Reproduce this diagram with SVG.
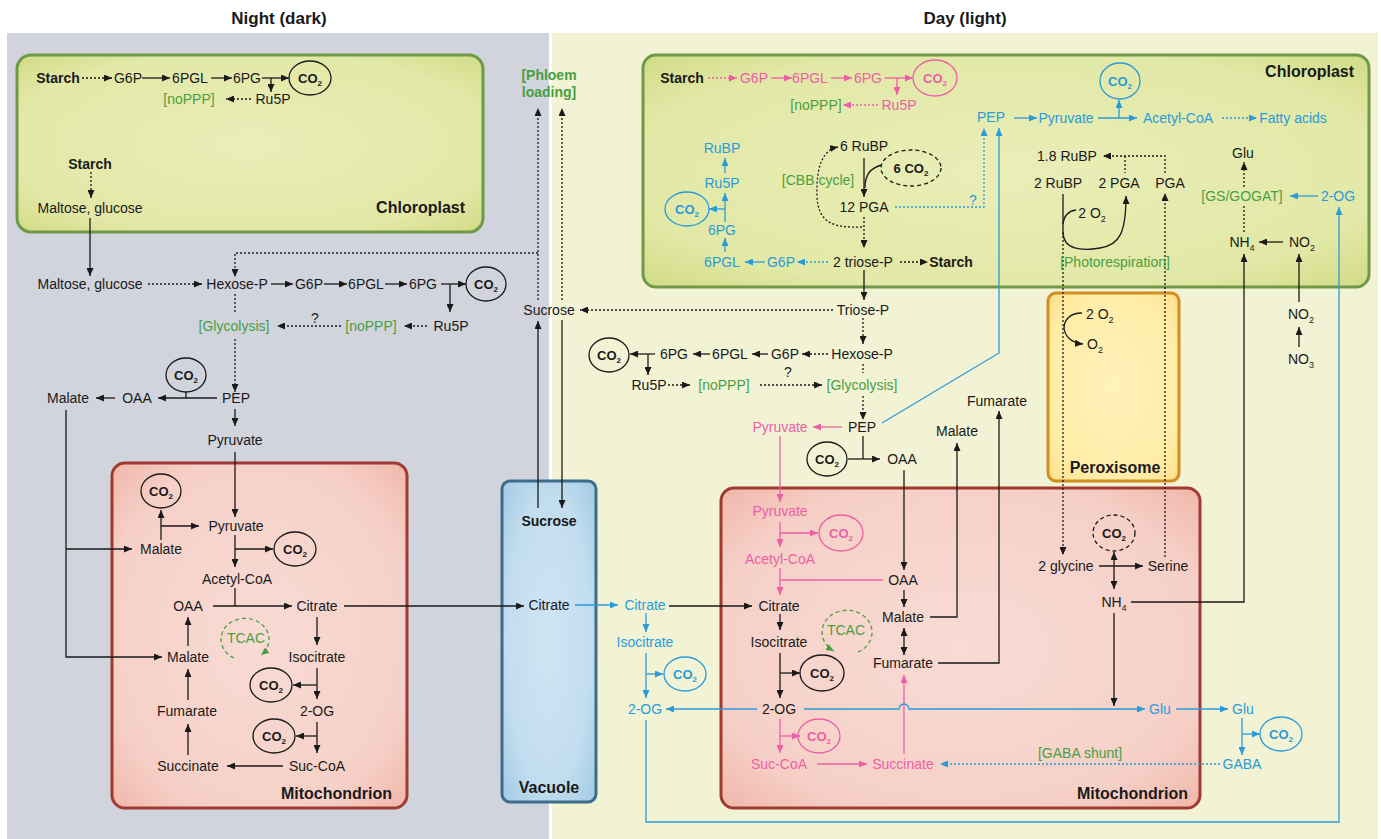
<svg xmlns="http://www.w3.org/2000/svg" width="1381" height="839" viewBox="0 0 1381 839">
<defs>
<style>
text{font-family:"Liberation Sans",Arial,sans-serif;font-size:14px;fill:#1a1a1a;text-anchor:middle}
.b{font-weight:bold}
.h{font-weight:bold;font-size:16px}
.g{fill:#4a9e3f}
.p{fill:#ec5fa5}
.u{fill:#2a9bd8}
.e{text-anchor:end}
.st{text-anchor:start}
.c{font-weight:bold;font-size:13px}
.l{fill:none;stroke:#1a1a1a;stroke-width:1.3}
.lp{fill:none;stroke:#ec5fa5;stroke-width:1.3}
.lu{fill:none;stroke:#2a9bd8;stroke-width:1.3}
.lt{fill:none;stroke:#4a9e3f;stroke-width:1.3;stroke-dasharray:4 3}
.d{stroke-dasharray:2 2}
.ek{fill:none;stroke:#1a1a1a;stroke-width:1.3}
.ep{fill:none;stroke:#ec5fa5;stroke-width:1.3}
.eu{fill:none;stroke:#2a9bd8;stroke-width:1.3}
.dash{stroke-dasharray:4 3}
</style>
<marker id="ak" viewBox="0 0 8 7" refX="8" refY="3.5" markerWidth="8" markerHeight="7" orient="auto-start-reverse" markerUnits="userSpaceOnUse"><path d="M0,0 L8,3.5 L0,7 z" fill="#1a1a1a"/></marker>
<marker id="ap" viewBox="0 0 8 7" refX="8" refY="3.5" markerWidth="8" markerHeight="7" orient="auto" markerUnits="userSpaceOnUse"><path d="M0,0 L8,3.5 L0,7 z" fill="#ec5fa5"/></marker>
<marker id="au" viewBox="0 0 8 7" refX="8" refY="3.5" markerWidth="8" markerHeight="7" orient="auto" markerUnits="userSpaceOnUse"><path d="M0,0 L8,3.5 L0,7 z" fill="#2a9bd8"/></marker>
<marker id="ag" viewBox="0 0 8 7" refX="8" refY="3.5" markerWidth="8" markerHeight="7" orient="auto" markerUnits="userSpaceOnUse"><path d="M0,0 L8,3.5 L0,7 z" fill="#4a9e3f"/></marker>
<radialGradient id="gc" cx="50%" cy="50%" r="75%"><stop offset="0" stop-color="#e9eeb8"/><stop offset="0.7" stop-color="#e2e8a6"/><stop offset="1" stop-color="#cdd87e"/></radialGradient>
<radialGradient id="gm" cx="50%" cy="50%" r="75%"><stop offset="0" stop-color="#f8dbd4"/><stop offset="0.7" stop-color="#f6d0c7"/><stop offset="1" stop-color="#efb0a3"/></radialGradient>
<radialGradient id="gv" cx="50%" cy="50%" r="75%"><stop offset="0" stop-color="#cfe5f3"/><stop offset="0.6" stop-color="#c2ddef"/><stop offset="1" stop-color="#9cc6e3"/></radialGradient>
<radialGradient id="gp" cx="50%" cy="50%" r="75%"><stop offset="0" stop-color="#fff2bb"/><stop offset="0.7" stop-color="#ffeca6"/><stop offset="1" stop-color="#fbdc80"/></radialGradient>
</defs>

<g id="background">
<rect x="0" y="0" width="1381" height="839" fill="#ffffff"/>
<rect x="7" y="33" width="542" height="806" fill="#d1d4dc"/>
<rect x="552" y="33" width="826" height="806" fill="#f2f3d5"/>
<text class="b" x="279" y="24" style="font-size:17px">Night (dark)</text>
<text class="b" x="965" y="24" style="font-size:17px">Day (light)</text>
</g>

<g id="compartments">
<g id="chloroplast-night"><rect x="17" y="55" width="466" height="177" rx="14" fill="url(#gc)" stroke="#6e9a48" stroke-width="3"/><text class="h e" x="465" y="213">Chloroplast</text></g>
<g id="mito-night"><rect x="112" y="463" width="295" height="345" rx="13" fill="url(#gm)" stroke="#a03a30" stroke-width="3"/><text class="h e" x="392" y="799">Mitochondrion</text></g>
<g id="vacuole"><rect x="502" y="481" width="94" height="321" rx="8" fill="url(#gv)" stroke="#3e6d8c" stroke-width="3"/><text class="h" x="549" y="793">Vacuole</text></g>
<g id="chloroplast-day"><rect x="643" y="55" width="726" height="232" rx="13" fill="url(#gc)" stroke="#6e9a48" stroke-width="3"/><text class="h e" x="1354" y="77">Chloroplast</text></g>
<g id="peroxisome"><rect x="1048" y="293" width="131" height="188" rx="8" fill="url(#gp)" stroke="#d08f1f" stroke-width="3"/><text class="h" x="1115" y="473">Peroxisome</text></g>
<g id="mito-day"><rect x="721" y="488" width="479" height="320" rx="13" fill="url(#gm)" stroke="#a03a30" stroke-width="3"/><text class="h e" x="1188" y="799">Mitochondrion</text></g>
</g>

<g id="connectors">
<!-- night chloroplast -->
<path class="l d" d="M82,78 H112" marker-end="url(#ak)"/>
<path class="l" d="M142,78 H170" marker-end="url(#ak)"/>
<path class="l" d="M211,78 H232" marker-end="url(#ak)"/>
<path class="l" d="M262,78 H289" marker-end="url(#ak)"/>
<path class="l" d="M271,78 V92" marker-end="url(#ak)"/>
<path class="l d" d="M251,99 H226" marker-end="url(#ak)"/>
<path class="l d" d="M91,172 V198" marker-end="url(#ak)"/>
<path class="l" d="M90,218 V276" marker-end="url(#ak)"/>
<!-- night cytosol -->
<path class="l d" d="M148,284 H202" marker-end="url(#ak)"/>
<path class="l" d="M271,284 H293" marker-end="url(#ak)"/>
<path class="l" d="M324,284 H347" marker-end="url(#ak)"/>
<path class="l" d="M385,284 H407" marker-end="url(#ak)"/>
<path class="l" d="M441,284 H466" marker-end="url(#ak)"/>
<path class="l" d="M450,284 V312" marker-end="url(#ak)"/>
<path class="l d" d="M427,326 H404" marker-end="url(#ak)"/>
<path class="l d" d="M341,326 H277" marker-end="url(#ak)"/>
<path class="l d" d="M235,294 V313"/>
<path class="l d" d="M235,339 V392" marker-end="url(#ak)"/>
<path class="l" d="M217,398 H158" marker-end="url(#ak)"/>
<path class="l" d="M186,398 V392"/>
<path class="l" d="M115,398 H96" marker-end="url(#ak)"/>
<path class="l" d="M235,409 V426" marker-end="url(#ak)"/>
<path class="l" d="M235,452 V517" marker-end="url(#ak)"/>
<path class="l" d="M66,410 V657 H162" marker-end="url(#ak)"/>
<path class="l" d="M66,549 H132" marker-end="url(#ak)"/>
<path class="l d" d="M538,253 H235 V277" marker-end="url(#ak)"/>
<path class="l d" d="M538,300 V108" marker-end="url(#ak)"/>
<path class="l d" d="M562,300 V108" marker-end="url(#ak)"/>
<path class="l" d="M538,508 V321" marker-end="url(#ak)"/>
<path class="l" d="M562,320 V508" marker-end="url(#ak)"/>
<!-- night mito -->
<path class="l" d="M161,540 V510" marker-end="url(#ak)"/>
<path class="l" d="M161,526 H199" marker-end="url(#ak)"/>
<path class="l" d="M235,535 V567" marker-end="url(#ak)"/>
<path class="l" d="M235,549 H273" marker-end="url(#ak)"/>
<path class="l" d="M235,588 V606"/>
<path class="l" d="M213,606 H292" marker-end="url(#ak)"/>
<path class="l" d="M317,617 V645" marker-end="url(#ak)"/>
<path class="l" d="M317,668 V699" marker-end="url(#ak)"/>
<path class="l" d="M317,685 H293" marker-end="url(#ak)"/>
<path class="l" d="M317,722 V753" marker-end="url(#ak)"/>
<path class="l" d="M317,736 H296" marker-end="url(#ak)"/>
<path class="l" d="M283,766 H227" marker-end="url(#ak)"/>
<path class="l" d="M188,755 V724" marker-end="url(#ak)"/>
<path class="l" d="M188,700 V669" marker-end="url(#ak)"/>
<path class="l" d="M188,646 V617" marker-end="url(#ak)"/>
<path class="lt" d="M234,658 A24 21 0 1 1 261,655" marker-end="url(#ag)"/>
<path class="l" d="M344,606 H524" marker-end="url(#ak)"/>
<!-- day chloroplast -->
<path class="lp d" d="M708,78 H737" marker-end="url(#ap)"/>
<path class="lp" d="M771,78 H792" marker-end="url(#ap)"/>
<path class="lp" d="M831,78 H852" marker-end="url(#ap)"/>
<path class="lp" d="M885,78 H913" marker-end="url(#ap)"/>
<path class="lp" d="M897,78 V95" marker-end="url(#ap)"/>
<path class="lp d" d="M878,105 H843" marker-end="url(#ap)"/>
<path class="lu" d="M725,173 V158" marker-end="url(#au)"/>
<path class="lu" d="M725,222 V193" marker-end="url(#au)"/>
<path class="lu" d="M725,209 H709" marker-end="url(#au)"/>
<path class="lu" d="M725,252 V238" marker-end="url(#au)"/>
<path class="lu" d="M765,262 H745" marker-end="url(#au)"/>
<path class="lu d" d="M828,262 H797" marker-end="url(#au)"/>
<path class="l d" d="M900,262 H928" marker-end="url(#ak)"/>
<path class="l" d="M864,158 V197" marker-end="url(#ak)"/>
<path class="l" d="M882,165 C870,168 865,175 865,188"/>
<path class="l d" d="M862,227 C835,228 818,224 817,196 C816,168 822,150 838,147" marker-end="url(#ak)"/>
<path class="l d" d="M864,217 V248" marker-end="url(#ak)"/>
<path class="lu d" d="M895,207 H984 V128" marker-end="url(#au)"/>
<path class="lu" d="M882,423 L999,353 V128" marker-end="url(#au)"/>
<path class="lu" d="M1014,118 H1037" marker-end="url(#au)"/>
<path class="lu" d="M1098,118 H1137" marker-end="url(#au)"/>
<path class="lu" d="M1119,118 V100" marker-end="url(#au)"/>
<path class="lu d" d="M1222,118 H1257" marker-end="url(#au)"/>
<path class="l d" d="M1165,173 V156 H1103" marker-end="url(#ak)"/>
<path class="l d" d="M1125,156 V173"/>
<path class="l" d="M1063,194 V232 C1063,250 1082,251 1100,248 C1120,245 1126,232 1126,196" marker-end="url(#ak)"/>
<path class="l" d="M1076,210 C1068,211 1064,216 1063,224"/>
<path class="l d" d="M1063,232 V555" marker-end="url(#ak)"/>
<path class="l d" d="M1165,557 V193" marker-end="url(#ak)"/>
<path class="l d" d="M1244,232 V204"/>
<path class="l d" d="M1244,187 V162" marker-end="url(#ak)"/>
<path class="lu" d="M1318,196 H1290" marker-end="url(#au)"/>
<path class="l" d="M1283,242 H1259" marker-end="url(#ak)"/>
<path class="l" d="M1299,302 V254" marker-end="url(#ak)"/>
<path class="l" d="M1299,347 V327" marker-end="url(#ak)"/>
<path class="l" d="M1131,602 H1244 V254" marker-end="url(#ak)"/>
<path class="lu" d="M646,720 V822 H1339 V207" marker-end="url(#au)"/>
<!-- day cytosol -->
<path class="l" d="M864,270 V300" marker-end="url(#ak)"/>
<path class="l d" d="M833,310 H580" marker-end="url(#ak)"/>
<path class="l d" d="M863,318 V344" marker-end="url(#ak)"/>
<path class="l d" d="M828,354 H802" marker-end="url(#ak)"/>
<path class="l" d="M768,354 H752" marker-end="url(#ak)"/>
<path class="l" d="M710,354 H693" marker-end="url(#ak)"/>
<path class="l" d="M655,354 H630" marker-end="url(#ak)"/>
<path class="l" d="M648,354 V375" marker-end="url(#ak)"/>
<path class="l d" d="M668,385 H690" marker-end="url(#ak)"/>
<path class="l d" d="M760,385 H822" marker-end="url(#ak)"/>
<path class="l d" d="M863,364 V373"/>
<path class="l d" d="M863,396 V420" marker-end="url(#ak)"/>
<path class="lp" d="M842,427 H813" marker-end="url(#ap)"/>
<path class="lp" d="M780,436 V502" marker-end="url(#ap)"/>
<path class="l" d="M863,436 V459"/>
<path class="l" d="M848,459 H880" marker-end="url(#ak)"/>
<path class="l" d="M904,470 V570" marker-end="url(#ak)"/>
<path class="l" d="M930,617 H957 V443" marker-end="url(#ak)"/>
<path class="l" d="M938,663 H999 V411" marker-end="url(#ak)"/>
<path class="lu" d="M575,605 H618" marker-end="url(#au)"/>
<path class="l" d="M669,606 H752" marker-end="url(#ak)"/>
<path class="lu" d="M646,613 V632" marker-end="url(#au)"/>
<path class="lu" d="M646,653 V698" marker-end="url(#au)"/>
<path class="lu" d="M646,674 H663" marker-end="url(#au)"/>
<path class="lu" d="M757,709 H666" marker-end="url(#au)"/>
<!-- day mito -->
<path class="lp" d="M780,522 V547" marker-end="url(#ap)"/>
<path class="lp" d="M780,533 H818" marker-end="url(#ap)"/>
<path class="lp" d="M780,568 V595" marker-end="url(#ap)"/>
<path class="lp" d="M780,580 H883"/>
<path class="l" d="M904,590 V607" marker-end="url(#ak)"/>
<path class="l" d="M904,628 V655" marker-start="url(#ak)" marker-end="url(#ak)"/>
<path class="l" d="M780,614 V630" marker-end="url(#ak)"/>
<path class="l" d="M780,653 V698" marker-end="url(#ak)"/>
<path class="l" d="M780,673 H800" marker-end="url(#ak)"/>
<path class="lp" d="M780,719 V753" marker-end="url(#ap)"/>
<path class="lp" d="M780,736 H800" marker-end="url(#ap)"/>
<path class="lp" d="M817,764 H867" marker-end="url(#ap)"/>
<path class="lp" d="M904,754 V675" marker-end="url(#ap)"/>
<path class="lu" d="M804,709 H899 A5,5 0 0 1 909,709 H1145" marker-end="url(#au)"/>
<path class="l" d="M1114,613 V706" marker-end="url(#ak)"/>
<path class="lu" d="M1176,709 H1228" marker-end="url(#au)"/>
<path class="lu" d="M1242,718 V755" marker-end="url(#au)"/>
<path class="lu" d="M1242,734 H1260" marker-end="url(#au)"/>
<path class="lu d" d="M1220,764 H940" marker-end="url(#au)"/>
<path class="l" d="M1099,566 H1143" marker-end="url(#ak)"/>
<path class="l" d="M1114,552 V589" marker-start="url(#ak)" marker-end="url(#ak)"/>
<path class="lt" d="M858,652 A25 22 0 1 0 834,651" marker-end="url(#ag)"/>
<path class="l" d="M1082,313 C1068,313 1064,322 1064,328 C1065,337 1072,343 1083,344" marker-end="url(#ak)"/>
</g>

<g id="nodes">
<!-- night chloroplast -->
<g id="n1"><text class="b" x="58" y="83">Starch</text></g>
<g id="n2"><text x="128" y="83">G6P</text></g>
<g id="n3"><text x="190" y="83">6PGL</text></g>
<g id="n4"><text x="247" y="83">6PG</text></g>
<g id="n5"><ellipse class="ek" cx="310" cy="78" rx="21" ry="17"/><text class="c" x="310" y="83">CO<tspan font-size="8" dy="3">2</tspan></text></g>
<g id="n6"><text x="273" y="104">Ru5P</text></g>
<g id="n7"><text class="g" x="189" y="104">[noPPP]</text></g>
<g id="n8"><text class="b" x="90" y="169">Starch</text></g>
<g id="n9"><text x="90" y="213">Maltose, glucose</text></g>
<!-- night cytosol -->
<g id="n10"><text x="90" y="289">Maltose, glucose</text></g>
<g id="n11"><text x="237" y="289">Hexose-P</text></g>
<g id="n12"><text x="309" y="289">G6P</text></g>
<g id="n13"><text x="366" y="289">6PGL</text></g>
<g id="n14"><text x="423" y="289">6PG</text></g>
<g id="n15"><ellipse class="ek" cx="486" cy="284" rx="20" ry="17"/><text class="c" x="486" y="289">CO<tspan font-size="8" dy="3">2</tspan></text></g>
<g id="n16"><text x="451" y="331">Ru5P</text></g>
<g id="n17"><text class="g" x="371" y="331">[noPPP]</text></g>
<g id="n18"><text x="315" y="323">?</text></g>
<g id="n19"><text class="g" x="234" y="331">[Glycolysis]</text></g>
<g id="n20"><text x="236" y="403">PEP</text></g>
<g id="n21"><text x="137" y="403">OAA</text></g>
<g id="n22"><text x="68" y="403">Malate</text></g>
<g id="n23"><ellipse class="ek" cx="186" cy="375" rx="20" ry="17"/><text class="c" x="186" y="380">CO<tspan font-size="8" dy="3">2</tspan></text></g>
<g id="n24"><text x="235" y="445">Pyruvate</text></g>
<g id="n25"><text x="549" y="315">Sucrose</text></g>
<g id="n26"><text class="b g" x="549" y="80">[Phloem</text><text class="b g" x="549" y="97">loading]</text></g>
<!-- night mito -->
<g id="n27"><ellipse class="ek" cx="161" cy="491" rx="20" ry="17"/><text class="c" x="161" y="496">CO<tspan font-size="8" dy="3">2</tspan></text></g>
<g id="n28"><text x="161" y="554">Malate</text></g>
<g id="n29"><text x="236" y="531">Pyruvate</text></g>
<g id="n30"><ellipse class="ek" cx="295" cy="549" rx="21" ry="17"/><text class="c" x="295" y="554">CO<tspan font-size="8" dy="3">2</tspan></text></g>
<g id="n31"><text x="237" y="584">Acetyl-CoA</text></g>
<g id="n32"><text x="188" y="611">OAA</text></g>
<g id="n33"><text x="317" y="611">Citrate</text></g>
<g id="n34"><text class="g" x="246" y="643">TCAC</text></g>
<g id="n35"><text x="317" y="662">Isocitrate</text></g>
<g id="n36"><ellipse class="ek" cx="271" cy="685" rx="21" ry="17"/><text class="c" x="271" y="690">CO<tspan font-size="8" dy="3">2</tspan></text></g>
<g id="n37"><text x="317" y="716">2-OG</text></g>
<g id="n38"><ellipse class="ek" cx="274" cy="736" rx="21" ry="17"/><text class="c" x="274" y="741">CO<tspan font-size="8" dy="3">2</tspan></text></g>
<g id="n39"><text x="317" y="771">Suc-CoA</text></g>
<g id="n40"><text x="188" y="771">Succinate</text></g>
<g id="n41"><text x="187" y="716">Fumarate</text></g>
<g id="n42"><text x="188" y="662">Malate</text></g>
<!-- vacuole -->
<g id="n43"><text class="b" x="549" y="526">Sucrose</text></g>
<g id="n44"><text x="549" y="610">Citrate</text></g>
<!-- day chloroplast -->
<g id="n45"><text class="b" x="682" y="83">Starch</text></g>
<g id="n46"><text class="p" x="754" y="83">G6P</text></g>
<g id="n47"><text class="p" x="810" y="83">6PGL</text></g>
<g id="n48"><text class="p" x="868" y="83">6PG</text></g>
<g id="n49"><ellipse class="ep" cx="935" cy="78" rx="22" ry="18"/><text class="c p" x="935" y="83">CO<tspan font-size="8" dy="3">2</tspan></text></g>
<g id="n50"><text class="p" x="899" y="110">Ru5P</text></g>
<g id="n51"><text class="g" x="816" y="110">[noPPP]</text></g>
<g id="n52"><text class="u" x="991" y="122">PEP</text></g>
<g id="n53"><text class="u" x="1066" y="123">Pyruvate</text></g>
<g id="n54"><ellipse class="eu" cx="1120" cy="81" rx="20" ry="18"/><text class="c u" x="1120" y="86">CO<tspan font-size="8" dy="3">2</tspan></text></g>
<g id="n55"><text class="u" x="1178" y="123">Acetyl-CoA</text></g>
<g id="n56"><text class="u" x="1293" y="123">Fatty acids</text></g>
<g id="n57"><text class="u" x="722" y="153">RuBP</text></g>
<g id="n58"><text class="u" x="722" y="188">Ru5P</text></g>
<g id="n59"><ellipse class="eu" cx="687" cy="209" rx="22" ry="17"/><text class="c u" x="687" y="214">CO<tspan font-size="8" dy="3">2</tspan></text></g>
<g id="n60"><text class="u" x="722" y="235">6PG</text></g>
<g id="n61"><text class="u" x="722" y="267">6PGL</text></g>
<g id="n62"><text class="u" x="781" y="267">G6P</text></g>
<g id="n63"><text x="863" y="267">2 triose-P</text></g>
<g id="n64"><text class="b" x="951" y="267">Starch</text></g>
<g id="n65"><text x="864" y="151">6 RuBP</text></g>
<g id="n66"><ellipse class="ek dash" cx="911" cy="168" rx="30" ry="18"/><text class="c" x="911" y="173">6 CO<tspan font-size="8" dy="3">2</tspan></text></g>
<g id="n67"><text class="g" x="818" y="185">[CBB cycle]</text></g>
<g id="n68"><text x="864" y="212">12 PGA</text></g>
<g id="n69"><text class="u" x="973" y="205">?</text></g>
<g id="n70"><text x="1067" y="161">1.8 RuBP</text></g>
<g id="n71"><text x="1058" y="188">2 RuBP</text></g>
<g id="n72"><text x="1119" y="188">2 PGA</text></g>
<g id="n73"><text x="1170" y="188">PGA</text></g>
<g id="n74"><text x="1092" y="218">2 O<tspan font-size="9" dy="4">2</tspan></text></g>
<g id="n75"><text class="g" x="1115" y="267">[Photorespiration]</text></g>
<g id="n76"><text x="1243" y="158">Glu</text></g>
<g id="n77"><text class="g" x="1242" y="201">[GS/GOGAT]</text></g>
<g id="n78"><text class="u" x="1338" y="201">2-OG</text></g>
<g id="n79"><text x="1242" y="247">NH<tspan font-size="9" dy="4">4</tspan></text></g>
<g id="n80"><text x="1302" y="247">NO<tspan font-size="9" dy="4">2</tspan></text></g>
<!-- day cytosol -->
<g id="n81"><text x="863" y="315">Triose-P</text></g>
<g id="n82"><text x="862" y="359">Hexose-P</text></g>
<g id="n83"><text x="785" y="359">G6P</text></g>
<g id="n84"><text x="730" y="359">6PGL</text></g>
<g id="n85"><text x="674" y="359">6PG</text></g>
<g id="n86"><ellipse class="ek" cx="609" cy="355" rx="20" ry="17"/><text class="c" x="609" y="360">CO<tspan font-size="8" dy="3">2</tspan></text></g>
<g id="n87"><text x="649" y="390">Ru5P</text></g>
<g id="n88"><text class="g" x="724" y="390">[noPPP]</text></g>
<g id="n89"><text x="788" y="377">?</text></g>
<g id="n90"><text class="g" x="862" y="390">[Glycolysis]</text></g>
<g id="n91"><text x="862" y="432">PEP</text></g>
<g id="n92"><text class="p" x="780" y="432">Pyruvate</text></g>
<g id="n93"><ellipse class="ek" cx="827" cy="459" rx="20" ry="17"/><text class="c" x="827" y="464">CO<tspan font-size="8" dy="3">2</tspan></text></g>
<g id="n94"><text x="902" y="464">OAA</text></g>
<g id="n95"><text x="957" y="436">Malate</text></g>
<g id="n96"><text x="997" y="406">Fumarate</text></g>
<g id="n97"><text x="1301" y="319">NO<tspan font-size="9" dy="4">2</tspan></text></g>
<g id="n98"><text x="1301" y="364">NO<tspan font-size="9" dy="4">3</tspan></text></g>
<g id="n99"><text class="u" x="645" y="610">Citrate</text></g>
<g id="n100"><text class="u" x="645" y="647">Isocitrate</text></g>
<g id="n101"><ellipse class="eu" cx="685" cy="674" rx="21" ry="17"/><text class="c u" x="685" y="679">CO<tspan font-size="8" dy="3">2</tspan></text></g>
<g id="n102"><text class="u" x="645" y="714">2-OG</text></g>
<g id="n103"><text class="u" x="1243" y="714">Glu</text></g>
<g id="n104"><ellipse class="eu" cx="1281" cy="734" rx="21" ry="17"/><text class="c u" x="1281" y="739">CO<tspan font-size="8" dy="3">2</tspan></text></g>
<g id="n105"><text class="u" x="1242" y="769">GABA</text></g>
<!-- peroxisome -->
<g id="n106"><text class="st" x="1086" y="319">2 O<tspan font-size="9" dy="4">2</tspan></text></g>
<g id="n107"><text class="st" x="1087" y="349">O<tspan font-size="9" dy="4">2</tspan></text></g>
<!-- day mito -->
<g id="n108"><text class="p" x="780" y="516">Pyruvate</text></g>
<g id="n109"><ellipse class="ep" cx="841" cy="533" rx="22" ry="18"/><text class="c p" x="841" y="538">CO<tspan font-size="8" dy="3">2</tspan></text></g>
<g id="n110"><text class="p" x="780" y="564">Acetyl-CoA</text></g>
<g id="n111"><text x="903" y="585">OAA</text></g>
<g id="n112"><text x="779" y="611">Citrate</text></g>
<g id="n113"><text x="903" y="622">Malate</text></g>
<g id="n114"><text class="g" x="846" y="635">TCAC</text></g>
<g id="n115"><text x="779" y="647">Isocitrate</text></g>
<g id="n116"><ellipse class="ek" cx="822" cy="673" rx="22" ry="18"/><text class="c" x="822" y="678">CO<tspan font-size="8" dy="3">2</tspan></text></g>
<g id="n117"><text x="903" y="668">Fumarate</text></g>
<g id="n118"><text x="779" y="714">2-OG</text></g>
<g id="n119"><ellipse class="ep" cx="819" cy="736" rx="21" ry="17"/><text class="c p" x="819" y="741">CO<tspan font-size="8" dy="3">2</tspan></text></g>
<g id="n120"><text class="p" x="779" y="769">Suc-CoA</text></g>
<g id="n121"><text class="p" x="903" y="769">Succinate</text></g>
<g id="n122"><ellipse class="ek dash" cx="1114" cy="533" rx="21" ry="18"/><text class="c" x="1114" y="538">CO<tspan font-size="8" dy="3">2</tspan></text></g>
<g id="n123"><text x="1066" y="571">2 glycine</text></g>
<g id="n124"><text x="1168" y="571">Serine</text></g>
<g id="n125"><text x="1114" y="607">NH<tspan font-size="9" dy="4">4</tspan></text></g>
<g id="n126"><text class="u" x="1160" y="714">Glu</text></g>
<g id="n127"><text class="g" x="1080" y="758">[GABA shunt]</text></g>
</g>
</svg>
